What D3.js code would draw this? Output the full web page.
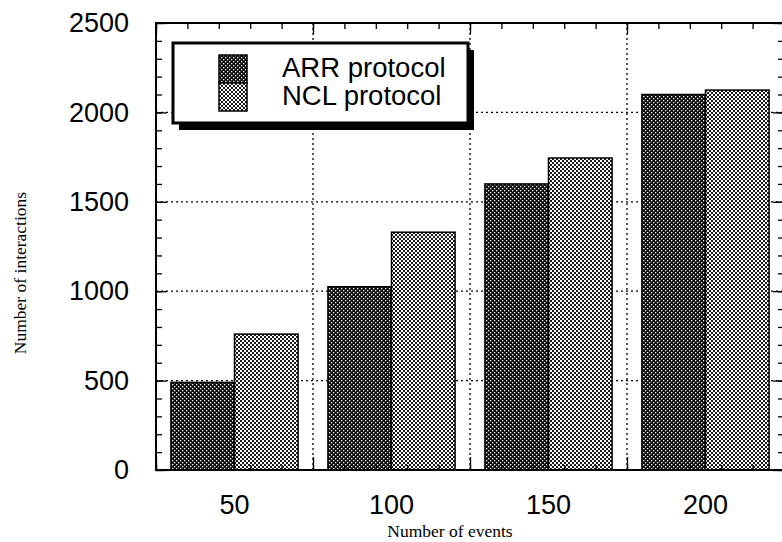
<!DOCTYPE html>
<html>
<head>
<meta charset="utf-8">
<script src="https://cdn.jsdelivr.net/npm/d3@7"></script>
<style>
  body { margin: 0; background: #fff; }
  .tick text { font-family: "Liberation Sans", Arial, sans-serif; fill: #000; }
</style>
</head>
<body>
<script>
var categories = ["50", "100", "150", "200"];
var seriesNames = ["ARR protocol", "NCL protocol"];
var arrValues = [490, 1025, 1600, 2100];
var nclValues = [760, 1330, 1745, 2125];
var yTicks = [0, 500, 1000, 1500, 2000, 2500];

function main(){
    var W = 782, H = 542,
        left = 156, right = 784, top = 23, bottom = 470

    var svg = d3.select("body").append("svg")
        .attr("width", W).attr("height", H)

    // halftone fills
    var defs = svg.append("defs")
    var pA = defs.append("pattern").attr("id", "patARR")
        .attr("patternUnits", "userSpaceOnUse").attr("width", 4).attr("height", 4)
    pA.append("rect").attr("width", 4).attr("height", 4).attr("fill", "#0a0a0a")
    pA.append("rect").attr("x", 0).attr("y", 0).attr("width", 1.3).attr("height", 1.3).attr("fill", "#fff")
    pA.append("rect").attr("x", 2).attr("y", 2).attr("width", 1.3).attr("height", 1.3).attr("fill", "#fff")

    var pN = defs.append("pattern").attr("id", "patNCL")
        .attr("patternUnits", "userSpaceOnUse").attr("width", 4).attr("height", 4)
    pN.append("rect").attr("width", 4).attr("height", 4).attr("fill", "#fff")
    pN.append("rect").attr("x", 0).attr("y", 0).attr("width", 2).attr("height", 2).attr("fill", "#1a1a1a")
    pN.append("rect").attr("x", 2).attr("y", 2).attr("width", 2).attr("height", 2).attr("fill", "#1a1a1a")

    var fills = ["url(#patARR)", "url(#patNCL)"]

    var table = categories.map(function(c, i){
        return {key: c, values: [arrValues[i], nclValues[i]]}
    })

    var x0 = d3.scaleBand().domain(categories).range([left, right])
    var bw = x0.bandwidth(), pad = bw * 0.095
    var x1 = d3.scaleBand().domain(seriesNames).range([pad, bw - pad])
    var xl = d3.scaleLinear().domain([0, categories.length]).range([left, right])
    var y = d3.scaleLinear().domain([0, 2500]).range([bottom, top])

    // dotted grid
    var grid = svg.append("g").attr("stroke", "#000").attr("stroke-width", 1.3)
        .attr("stroke-dasharray", "2,3")
    grid.selectAll(".gy").data(yTicks.slice(1, -1)).enter().append("line")
        .attr("x1", left).attr("x2", right)
        .attr("y1", function(d){ return y(d) }).attr("y2", function(d){ return y(d) })
    grid.selectAll(".gx").data(d3.range(1, categories.length)).enter().append("line")
        .attr("y1", top).attr("y2", bottom)
        .attr("x1", function(d){ return xl(d) }).attr("x2", function(d){ return xl(d) })

    // bars
    var groups = svg.selectAll(".grp").data(table).enter().append("g")
        .attr("transform", function(d){ return "translate(" + x0(d.key) + ",0)" })
    groups.selectAll("rect")
        .data(function(d){ return d.values.map(function(v, j){ return {name: seriesNames[j], value: v, j: j} }) })
        .enter().append("rect")
        .attr("x", function(d){ return x1(d.name) })
        .attr("width", x1.bandwidth())
        .attr("y", function(d){ return y(d.value) })
        .attr("height", function(d){ return bottom - y(d.value) })
        .attr("fill", function(d){ return fills[d.j] })
        .attr("stroke", "#000").attr("stroke-width", 1.5)

    // ticks, all pointing inward
    var minorY = d3.range(0, 2501, 100)
    var minorX = d3.range(0, categories.length + 0.001, 0.2)
    var majorX = d3.range(0, categories.length + 1)

    function tickAxis(axis, tr){
        var g = svg.append("g").attr("transform", tr).call(axis)
        g.select(".domain").remove()
        g.selectAll("text").remove()
        g.selectAll("line").attr("stroke", "#000").attr("stroke-width", 1.3)
        return g
    }
    tickAxis(d3.axisRight(y).tickValues(minorY).tickSize(6), "translate(" + left + ",0)")
    tickAxis(d3.axisRight(y).tickValues(yTicks).tickSize(11), "translate(" + left + ",0)")
    tickAxis(d3.axisLeft(y).tickValues(minorY).tickSize(6), "translate(" + right + ",0)")
    tickAxis(d3.axisLeft(y).tickValues(yTicks).tickSize(11), "translate(" + right + ",0)")
    tickAxis(d3.axisBottom(xl).tickValues(minorX).tickSize(6), "translate(0," + top + ")")
    tickAxis(d3.axisBottom(xl).tickValues(majorX).tickSize(11), "translate(0," + top + ")")
    tickAxis(d3.axisTop(xl).tickValues(minorX).tickSize(5), "translate(0," + bottom + ")")
    tickAxis(d3.axisTop(xl).tickValues(majorX).tickSize(13), "translate(0," + bottom + ")")

    // frame
    svg.append("rect").attr("x", left).attr("y", top)
        .attr("width", right - left).attr("height", bottom - top)
        .attr("fill", "none").attr("stroke", "#000").attr("stroke-width", 2)

    // tick labels
    var yl = svg.append("g").attr("transform", "translate(" + left + ",0)")
        .call(d3.axisLeft(y).tickValues(yTicks).tickSize(0).tickPadding(27).tickFormat(d3.format("d")))
    yl.select(".domain").remove()
    yl.selectAll("text").style("font-size", "27px")

    var xlab = svg.append("g").attr("transform", "translate(0," + bottom + ")")
        .call(d3.axisBottom(x0).tickSize(0).tickPadding(25))
    xlab.select(".domain").remove()
    xlab.selectAll("text").style("font-size", "27px")

    // axis titles
    svg.append("text")
        .attr("transform", "translate(26,273) rotate(-90)")
        .attr("text-anchor", "middle")
        .style("font-family", "'Liberation Serif', 'Times New Roman', serif")
        .style("font-size", "17.5px")
        .text("Number of interactions")
    svg.append("text")
        .attr("x", 450).attr("y", 537)
        .attr("text-anchor", "middle")
        .style("font-family", "'Liberation Serif', 'Times New Roman', serif")
        .style("font-size", "17.5px")
        .text("Number of events")

    // legend with drop shadow
    var lg = svg.append("g").attr("transform", "translate(173,43)")
    var lw = 295, lh = 80
    lg.append("rect").attr("x", 6).attr("y", 7).attr("width", lw).attr("height", lh).attr("fill", "#000")
    lg.append("rect").attr("width", lw).attr("height", lh)
        .attr("fill", "#fff").attr("stroke", "#000").attr("stroke-width", 3)
    var items = lg.selectAll(".item").data(seriesNames).enter().append("g")
        .attr("transform", function(d, i){ return "translate(46," + (12 + i * 28) + ")" })
    items.append("rect").attr("width", 28).attr("height", 28)
        .attr("fill", function(d, i){ return fills[i] })
        .attr("stroke", "#000").attr("stroke-width", 1.5)
    items.append("text").attr("x", 63).attr("y", 22)
        .style("font-family", "'Liberation Sans', Arial, sans-serif")
        .style("font-size", "27.5px")
        .text(function(d){ return d })
}
main()
</script>
</body>
</html>
